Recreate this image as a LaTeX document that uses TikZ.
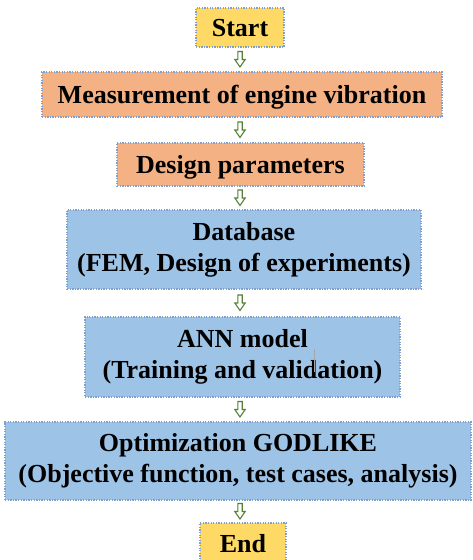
\documentclass[tikz,border=0pt]{standalone}
\usepackage{fontspec}
\setmainfont{Liberation Serif}
\usetikzlibrary{calc}
\definecolor{boxyellow}{RGB}{255,217,102}
\definecolor{boxorange}{RGB}{244,177,131}
\definecolor{boxblue}{RGB}{157,195,230}
\definecolor{dotborder}{RGB}{130,160,205}
\definecolor{arrgreen}{RGB}{84,130,53}
\tikzset{
  flowbox/.style={draw=dotborder, line width=1.3pt, dash pattern=on 1.3pt off 1.3pt,
    inner sep=0pt, align=center, font=\fontsize{26}{31}\selectfont\bfseries},
  oneline/.style={text height=23pt, text depth=5pt},
  yellowbox/.style={flowbox, oneline, fill=boxyellow},
  orangebox/.style={flowbox, oneline, fill=boxorange},
  bluebox/.style={flowbox, fill=boxblue},
  hollowarrow/.pic={
    \draw[arrgreen, fill=white, line width=1.1pt, line join=miter]
      (-2.2,8) -- (2.2,8) -- (2.2,0) -- (5.2,0) -- (0,-7.5) -- (-5.2,0) -- (-2.2,0) -- cycle;
  },
  cursorline/.style={draw=gray!70, line width=0.8pt}
}
\begin{document}
\begin{tikzpicture}[x=1pt,y=1pt]
\useasboundingbox (0,0) rectangle (473,560);
\clip (0,0) rectangle (473,560);
\node[yellowbox, minimum width=88pt, minimum height=39pt] (start) at (240,532.5) {Start};
\node[orangebox, minimum width=400pt, minimum height=45pt] (meas) at (242,465.5) {Measurement of engine vibration};
\node[orangebox, minimum width=247pt, minimum height=43pt] (design) at (240.5,395.5) {Design parameters};
\node[bluebox, minimum width=354pt, minimum height=79pt] (db) at (244,310.5) {Database\\(FEM, Design of experiments)};
\node[bluebox, minimum width=315pt, minimum height=80pt] (ann) at (242.5,203) {ANN model\\(Training and validation)};
\node[bluebox, minimum width=466pt, minimum height=78pt] (opt) at (238,99) {Optimization GODLIKE\\(Objective function, test cases, analysis)};
\node[yellowbox, minimum width=86pt, minimum height=40pt] (end) at (243,17) {End};
\path ($(start.south -| 240,0)!0.5!(meas.north -| 240,0)$) pic {hollowarrow};
\path ($(meas.south -| 240,0)!0.5!(design.north -| 240,0)$) pic {hollowarrow};
\path ($(design.south -| 240,0)!0.5!(db.north -| 240,0)$) pic {hollowarrow};
\path ($(db.south -| 240,0)!0.5!(ann.north -| 240,0)$) pic {hollowarrow};
\path ($(ann.south -| 240,0)!0.5!(opt.north -| 240,0)$) pic {hollowarrow};
\path ($(opt.south -| 240,0)!0.5!(end.north -| 240,0)$) pic {hollowarrow};
\coordinate (curtop) at (314,211);
\coordinate (curbot) at (314,188);
\draw[cursorline] (curtop) -- (curbot);
\end{tikzpicture}
\end{document}
